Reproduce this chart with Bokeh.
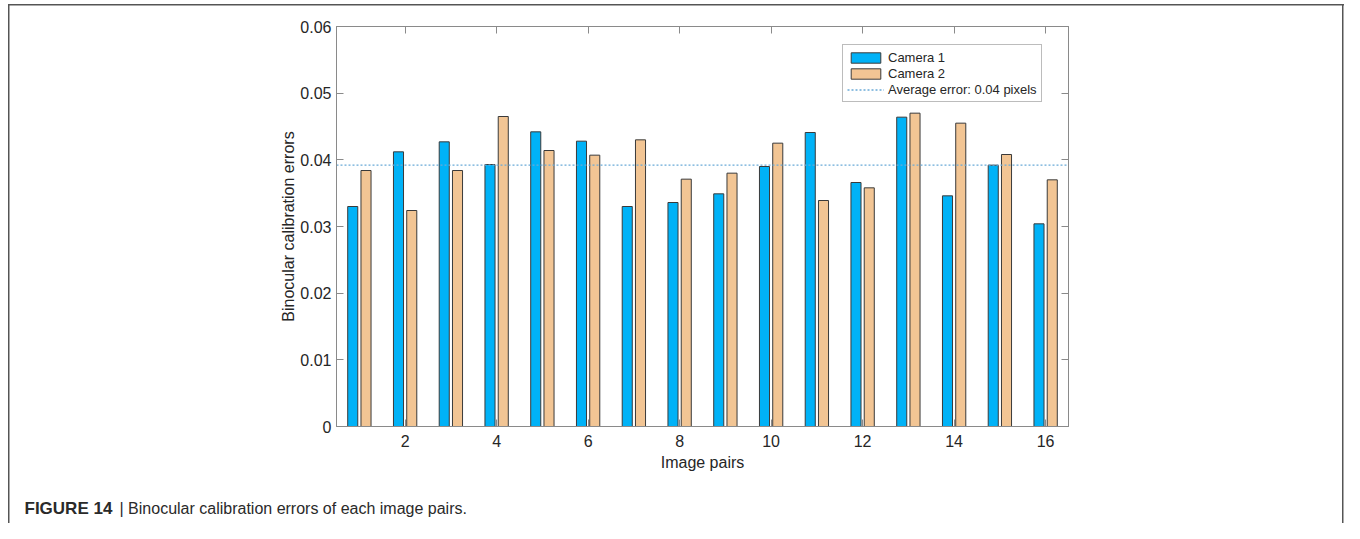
from bokeh.plotting import figure
from bokeh.models import (FixedTicker, LinearAxis, Legend, LegendItem, Label,
                          CustomJSTickFormatter, ColumnDataSource)
from bokeh.transform import dodge
from bokeh.embed import file_html
from bokeh.resources import INLINE

# ---- data ----
pairs = list(range(1, 17))
camera1 = [0.0330, 0.0412, 0.0427, 0.0393, 0.0442, 0.0428, 0.0330, 0.0336,
           0.0349, 0.0390, 0.0441, 0.0366, 0.0464, 0.0346, 0.0392, 0.0304]
camera2 = [0.0384, 0.0324, 0.0384, 0.0465, 0.0414, 0.0407, 0.0430, 0.0371,
           0.0380, 0.0425, 0.0339, 0.0358, 0.0470, 0.0455, 0.0408, 0.0370]
average_error = 0.0392
x_ticks = [2, 4, 6, 8, 10, 12, 14, 16]
y_ticks = [0, 0.01, 0.02, 0.03, 0.04, 0.05, 0.06]
x_lim = (0.5, 16.5)
y_lim = (0, 0.06)
series_names = ["Camera 1", "Camera 2", "Average error: 0.04 pixels"]
x_label = "Image pairs"
y_label = "Binocular calibration errors"
caption_bold = "FIGURE 14"
caption_rest = "| Binocular calibration errors of each image pairs."

BLUE = "#00B2F7"
ORANGE = "#F2C594"
EDGE = "#3a3a3a"
AXIS = "#8a8a8a"
TXT = "#262626"
FONT = "Liberation Sans"

src = ColumnDataSource(dict(x=pairs, c1=camera1, c2=camera2))

p = figure(width=1344, height=523, x_range=x_lim, y_range=y_lim,
           output_backend="svg", toolbar_location=None,
           min_border_left=336, min_border_right=276,
           min_border_top=26, min_border_bottom=97)
p.xgrid.visible = False
p.ygrid.visible = False
p.outline_line_color = AXIS
p.background_fill_color = "white"
p.border_fill_color = None
# outer figure frame (left, top, right edges) drawn behind the transparent border area
p.styles = {
    "background-color": "white",
    "background-image": ("linear-gradient(#555,#555), linear-gradient(#555,#555), "
                         "linear-gradient(#555,#555)"),
    "background-size": "1.5px 100%, 1336px 1.5px, 1.5px 100%",
    "background-position": "8px 4px, 8px 4px, 1342px 4px",
    "background-repeat": "no-repeat",
}

r1 = p.vbar(x=dodge("x", -0.145, range=p.x_range), top="c1", width=0.22,
            source=src, fill_color=BLUE, line_color=EDGE, line_width=1)
r2 = p.vbar(x=dodge("x", 0.145, range=p.x_range), top="c2", width=0.22,
            source=src, fill_color=ORANGE, line_color=EDGE, line_width=1)
r3 = p.line(x=list(x_lim), y=[average_error, average_error],
            line_color="#6AAAD8", line_width=1.3, line_dash="2 2")

def style_axis(ax, labels=True):
    ax.axis_line_color = AXIS
    ax.major_tick_line_color = AXIS
    ax.major_tick_in = 7
    ax.major_tick_out = 0
    ax.minor_tick_line_color = None
    ax.major_label_text_font = FONT
    ax.major_label_text_font_size = "16px"
    ax.major_label_text_color = TXT
    ax.axis_label_text_font = FONT
    ax.axis_label_text_font_size = "16px"
    ax.axis_label_text_font_style = "normal"
    ax.axis_label_text_color = TXT
    if not labels:
        ax.major_label_text_font_size = "0px"
        ax.major_label_text_color = None

xa = p.xaxis[0]
xa.ticker = FixedTicker(ticks=x_ticks)
xa.axis_label = x_label
xa.major_label_standoff = 8
xa.axis_label_standoff = 4
style_axis(xa)

ya = p.yaxis[0]
ya.ticker = FixedTicker(ticks=y_ticks)
ya.formatter = CustomJSTickFormatter(code="return tick == 0 ? '0' : tick.toFixed(2);")
ya.axis_label = y_label
ya.major_label_standoff = 5
ya.axis_label_standoff = 0
style_axis(ya)

top_ax = LinearAxis(ticker=FixedTicker(ticks=x_ticks))
style_axis(top_ax, labels=False)
p.add_layout(top_ax, "above")
right_ax = LinearAxis(ticker=FixedTicker(ticks=y_ticks))
style_axis(right_ax, labels=False)
p.add_layout(right_ax, "right")

legend = Legend(items=[LegendItem(label=series_names[0], renderers=[r1]),
                       LegendItem(label=series_names[1], renderers=[r2]),
                       LegendItem(label=series_names[2], renderers=[r3])],
                location=(506, 324))
legend.label_text_font = FONT
legend.label_text_font_size = "13px"
legend.label_text_color = TXT
legend.glyph_width = 37
legend.glyph_height = 13
legend.label_height = 16
legend.label_standoff = 4
legend.spacing = 0
legend.padding = 4
legend.margin = 0
legend.border_line_color = "#7a7a7a"
legend.border_line_width = 1
legend.background_fill_alpha = 1
p.add_layout(legend, "center")

p.add_layout(Label(x=24, y=508, x_units="canvas", y_units="canvas",
                   text=caption_bold, text_font=FONT, text_font_size="17px",
                   text_baseline="alphabetic",
                   text_font_style="bold", text_color="#2a2a2a"), "below")
p.add_layout(Label(x=119, y=508, x_units="canvas", y_units="canvas",
                   text=caption_rest, text_font=FONT, text_font_size="16px",
                   text_baseline="alphabetic", text_color="#2a2a2a"), "below")

open("out.html", "w").write(file_html(p, INLINE))
